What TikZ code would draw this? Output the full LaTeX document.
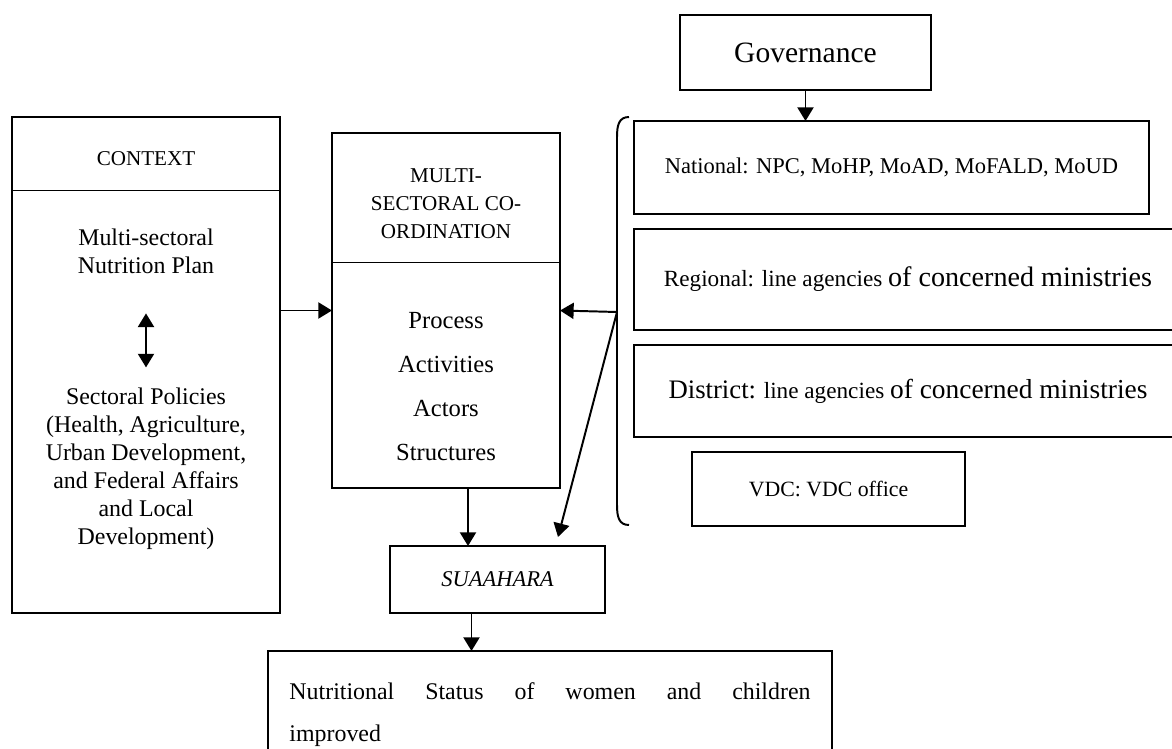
\documentclass[tikz,border=0pt]{standalone}
\usepackage{fontspec}
\setmainfont{Liberation Serif}
\usetikzlibrary{arrows.meta}
\begin{document}
\begin{tikzpicture}[x=0.025cm,y=-0.025cm,inner sep=0pt,outer sep=0pt,line width=1.4pt,
>={Triangle[length=0.34cm,width=0.4cm]},
sysblock/.style={draw,rectangle,align=center,font=\fontsize{17}{20}\selectfont,line width=1.4pt},
divider/.style={line width=0.7pt},
headtext/.style={align=center,font=\fontsize{15}{19.9}\selectfont},
bodytext/.style={align=center,font=\fontsize{17}{19.9}\selectfont}]
\useasboundingbox (0,0) rectangle (1172,749);
\draw (805.5,52.5) node[sysblock,minimum width=6.275cm,minimum height=1.875cm,font=\fontsize{21}{24}\selectfont] (gov) {Governance};
\draw (891.5,167.5) node[sysblock,minimum width=12.875cm,minimum height=2.325cm,font=\fontsize{16}{20}\selectfont] (nat) {National: NPC, MoHP, MoAD, MoFALD, MoUD};
\draw (908,279.5) node[sysblock,minimum width=13.7cm,minimum height=2.525cm,font=\fontsize{16.5}{20}\selectfont] (reg) {Regional: line agencies {\fontsize{20}{24}\selectfont of concerned ministries}};
\draw (908,391) node[sysblock,minimum width=13.7cm,minimum height=2.3cm,font=\fontsize{16.5}{20}\selectfont] (dist) {{\fontsize{19}{24}\selectfont District:} line agencies {\fontsize{19.5}{24}\selectfont of concerned ministries}};
\draw (828.5,489) node[sysblock,minimum width=6.825cm,minimum height=1.85cm,font=\fontsize{15.5}{20}\selectfont] (vdc) {VDC: VDC office};
\draw (629,117) .. controls (619,117) and (617,125) .. (617,137) -- (617,505) .. controls (617,517) and (619,525) .. (629,525);
\coordinate (bx) at (617,312);
\draw[->] (gov.south) -- (gov.south |- nat.north);

\draw (146,365) node[sysblock,minimum width=6.7cm,minimum height=12.4cm] (ctx) {};
\node[anchor=north,minimum width=6.7cm,minimum height=1.85cm] (ctxhead) at (ctx.north) {};
\draw[divider] (ctxhead.south west) -- (ctxhead.south east);
\node[headtext] (ctxtitle) at (146,159) {CONTEXT};
\node[bodytext] (ctxplan) at (146,251) {Multi-sectoral\\Nutrition Plan};
\node[bodytext] (ctxpol) at (146,469) {Sectoral Policies\\(Health, Agriculture,\\Urban Development,\\and Federal Affairs\\and Local\\Development)};
\draw[<->] ([yshift=-1cm]ctxplan.south) -- ([yshift=0.52cm]ctxpol.north);

\draw (446,310.5) node[sysblock,minimum width=5.7cm,minimum height=8.875cm] (msc) {};
\node[anchor=north,minimum width=5.7cm,minimum height=3.25cm] (mschead) at (msc.north) {};
\draw[divider] (mschead.south west) -- (mschead.south east);
\node[headtext] (msctitle) at (446,204) {MULTI-\\SECTORAL CO-\\ORDINATION};
\node[bodytext,font=\fontsize{17.5}{31.3}\selectfont] (mscbody) at (446,386.5) {Process\\Activities\\Actors\\Structures};

\draw (497.5,579.5) node[sysblock,minimum width=5.375cm,minimum height=1.675cm,font=\fontsize{16}{20}\selectfont\itshape] (sua) {SUAAHARA};
\draw (550,715) node[sysblock,minimum width=14.1cm,minimum height=3.2cm,text width=13.025cm,align=justify,font=\fontsize{17}{29.9}\selectfont] (out) {Nutritional Status of women and children\linebreak improved};
\coordinate (suatip) at (558,537);

\draw[->] (ctx.east |- msc.west) -- (msc.west);
\draw[->] (bx) -- (msc.east);
\draw[->] (bx) -- (suatip);
\draw[->] ([xshift=0.55cm]msc.south) -- ([xshift=0.55cm]msc.south |- sua.north);
\draw[->] ([xshift=-0.65cm]sua.south) -- ([xshift=-0.65cm]sua.south |- out.north);
\end{tikzpicture}
\end{document}
